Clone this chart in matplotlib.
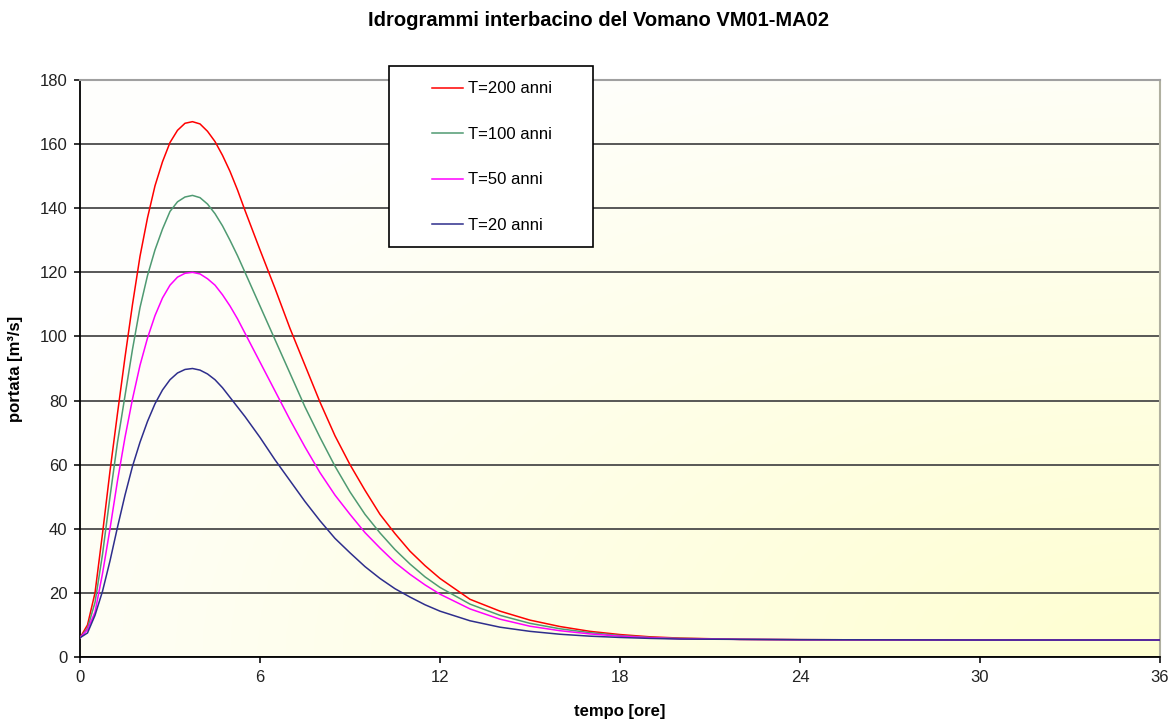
import matplotlib.pyplot as plt
import numpy as np
from matplotlib.patches import Rectangle

# tempo [ore]
t = [0, 0.25, 0.5, 0.75, 1.0, 1.25, 1.5, 1.75, 2.0, 2.25, 2.5, 2.75, 3.0, 3.25, 3.5,
     3.75, 4.0, 4.25, 4.5, 4.75, 5.0, 5.25, 5.5, 6.0, 6.5, 7.0, 7.5, 8.0, 8.5, 9.0,
     9.5, 10.0, 10.5, 11.0, 11.5, 12.0, 13, 14, 15, 16, 17, 18, 19, 20, 22, 24, 30, 36]

# portata [m3/s]
q200 = [6, 10, 20, 38.5, 58, 76, 93.5, 110, 125, 137, 147, 154.5, 160.5, 164.3, 166.5,
        167, 166.3, 164, 160.8, 156.5, 151.5, 145.7, 139.3, 127, 115, 102.5, 91, 79.5, 69, 60,
        52, 44.5, 38.5, 33, 28.5, 24.5, 18, 14.3, 11.5, 9.5, 8, 7, 6.3, 5.9, 5.5, 5.4, 5.3, 5.3]
q100 = [6, 9, 17, 32, 50, 67, 81.5, 96, 109, 119, 127, 133.5, 139, 142, 143.5,
        144, 143.3, 141.3, 138.3, 134.5, 130, 125.2, 120, 109.5, 99, 88.5, 78, 68.5, 59.5, 51.5,
        44.5, 38.7, 33.5, 29, 25, 21.7, 16.5, 13, 10.5, 8.8, 7.6, 6.7, 6.1, 5.8, 5.5, 5.4, 5.3, 5.3]
q50 = [6, 8.5, 14, 26, 40, 55, 68.5, 80.5, 91, 99.5, 106.5, 112, 116, 118.5, 119.7,
       120, 119.5, 118, 116, 113, 109.5, 105.5, 101, 92, 83, 74, 65.5, 57.5, 50.5, 44.5,
       38.8, 34, 29.5, 25.8, 22.5, 19.6, 15, 11.8, 9.6, 8.2, 7.2, 6.5, 6.0, 5.7, 5.5, 5.4, 5.3, 5.3]
q20 = [6, 7.5, 13, 20.5, 30, 40.5, 50.5, 59.5, 67, 73.5, 79, 83.3, 86.5, 88.6, 89.7,
       90, 89.5, 88.3, 86.5, 84, 81, 78, 75, 68.5, 61.5, 55, 48.5, 42.5, 37, 32.5,
       28.2, 24.5, 21.3, 18.7, 16.3, 14.3, 11.3, 9.3, 8, 7.1, 6.5, 6.1, 5.8, 5.6, 5.5, 5.4, 5.3, 5.3]

series = [
    ("T=200 anni", q200, "#ff0000"),
    ("T=100 anni", q100, "#4f9a72"),
    ("T=50 anni", q50, "#ff00ff"),
    ("T=20 anni", q20, "#2e2e8c"),
]

xticks = [0, 6, 12, 18, 24, 30, 36]
yticks = list(range(0, 181, 20))

plt.rcParams.update({"font.family": ["Liberation Sans", "DejaVu Sans"], "font.size": 12})

fig = plt.figure(figsize=(11.74, 7.22), dpi=100)
ax = fig.add_axes([80 / 1174, 1 - 657 / 722, 1080 / 1174, 577 / 722])

# gradient background: white away from the corner -> light yellow at bottom-right
gx, gy = np.meshgrid(np.linspace(0, 1, 300), np.linspace(1, 0, 200))
dist = np.sqrt((1 - gx) ** 2 + gy ** 2)
w = np.clip(1 - dist / 1.15, 0, 1) ** 0.9
white = np.array([0.997, 0.997, 0.99])
yellow = np.array([1.0, 1.0, 0.82])
img = white[None, None, :] * (1 - w[..., None]) + yellow[None, None, :] * w[..., None]
ax.imshow(img, extent=[0, 36, 0, 180], aspect="auto", origin="upper", zorder=0)

handles = []
for label, q, color in series:
    h, = ax.plot(t, q, color=color, lw=1.1, label=label, zorder=3)
    handles.append(h)

ax.set_xlim(0, 36)
ax.set_ylim(0, 180)
ax.set_xticks(xticks)
ax.set_yticks(yticks)
ax.grid(axis="y", color="#4a4a4a", lw=1.3)
ax.set_axisbelow(True)
ax.tick_params(direction="out", length=4, width=1.3, pad=5, colors="#222222", labelsize=12)
ax.spines["left"].set_linewidth(1.3)
ax.spines["bottom"].set_linewidth(1.3)
ax.spines["top"].set_color("#a0a0a0")
ax.spines["right"].set_color("#b0b0a0")
ax.spines["top"].set_linewidth(1.5)
ax.spines["right"].set_linewidth(1.5)

ax.set_xlabel("tempo [ore]", fontweight="bold", fontsize=12, labelpad=14)
ax.set_ylabel("portata [m³/s]", fontweight="bold", fontsize=12, labelpad=12)
fig.suptitle("Idrogrammi interbacino del Vomano VM01-MA02", fontweight="bold",
             fontsize=14.5, x=598 / 1174, y=1 - 20 / 722, va="center")

# legend box
fig.patches.append(Rectangle((389 / 1174, 1 - 247 / 722), 204 / 1174, 181 / 722,
                             transform=fig.transFigure, facecolor="white",
                             edgecolor="black", lw=1.2, zorder=4))
fig.legend(handles=handles, loc="upper left", frameon=False,
           bbox_to_anchor=(424 / 1174, 1 - 73 / 722), bbox_transform=fig.transFigure,
           fontsize=12, handlelength=1.85, handletextpad=0.3, labelspacing=1.83,
           borderpad=0)

fig.savefig("out.png", dpi=100)
